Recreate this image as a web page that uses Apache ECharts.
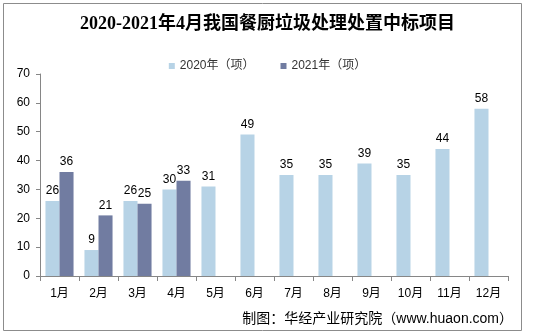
<!DOCTYPE html>
<html>
<head>
<meta charset="utf-8">
<script src="https://cdn.jsdelivr.net/npm/echarts@6/dist/echarts.min.js"></script>
<style>
  html, body { margin: 0; padding: 0; background: #fff; }
  #chart { width: 535px; height: 336px; }
</style>
</head>
<body>
<div id="chart"></div>
<script>
const months = ['1月', '2月', '3月', '4月', '5月', '6月', '7月', '8月', '9月', '10月', '11月', '12月'];
const projects2020 = [26, 9, 26, 30, 31, 49, 35, 35, 39, 35, 44, 58];
const projects2021 = [36, 21, 25, 33, null, null, null, null, null, null, null, null];
const yTicks = [0, 10, 20, 30, 40, 50, 60, 70];

const sans = '"Liberation Sans", Arial, "Noto Sans CJK SC", sans-serif';
const chart = echarts.init(document.getElementById('chart'), null, { renderer: 'canvas' });

const labelStyle = { show: true, position: 'top', distance: 4, color: '#000', fontSize: 12, fontFamily: sans };

chart.setOption({
  animation: false,
  backgroundColor: '#fff',
  title: {
    text: '2020-2021年4月我国餐厨垃圾处理处置中标项目',
    left: 'center',
    top: 10,
    textStyle: { fontSize: 18, fontWeight: 'bold', color: '#000', fontFamily: '"Liberation Serif", "Noto Sans CJK SC", serif' }
  },
  legend: {
    top: 55,
    left: 'center',
    itemWidth: 6,
    itemHeight: 6,
    itemGap: 26,
    icon: 'rect',
    textStyle: { fontSize: 12, color: '#333', fontFamily: sans },
    data: ['2020年（项）', '2021年（项）']
  },
  grid: { left: 40, right: 27, top: 74, bottom: 60 },
  xAxis: {
    type: 'category',
    data: months,
    axisLine: { lineStyle: { color: '#868686' } },
    axisTick: { show: true, alignWithLabel: false, length: 5, lineStyle: { color: '#868686' } },
    axisLabel: { color: '#000', fontSize: 12, margin: 12, fontFamily: sans }
  },
  yAxis: {
    type: 'value',
    min: yTicks[0],
    max: yTicks[yTicks.length - 1],
    interval: 10,
    axisLine: { show: true, lineStyle: { color: '#868686' } },
    axisTick: { show: true, length: 4, lineStyle: { color: '#868686' } },
    splitLine: { show: false },
    axisLabel: { color: '#000', fontSize: 12, margin: 10, fontFamily: sans }
  },
  series: [
    {
      name: '2020年（项）',
      type: 'bar',
      data: projects2020,
      barGap: '0%',
      barCategoryGap: '28%',
      itemStyle: { color: '#b7d3e6' },
      label: labelStyle
    },
    {
      name: '2021年（项）',
      type: 'bar',
      data: projects2021,
      itemStyle: { color: '#717ca1' },
      label: labelStyle
    }
  ],
  graphic: [
    {
      type: 'rect',
      shape: { x: 3.5, y: 3.5, width: 518, height: 327 },
      style: { fill: 'none', stroke: '#8c8c8c', lineWidth: 1 },
      silent: true
    },
    {
      type: 'text',
      right: 22,
      top: 312,
      style: { text: '制图：华经产业研究院（www.huaon.com）', fontSize: 14, fill: '#000', fontFamily: sans }
    }
  ]
});
</script>
</body>
</html>
